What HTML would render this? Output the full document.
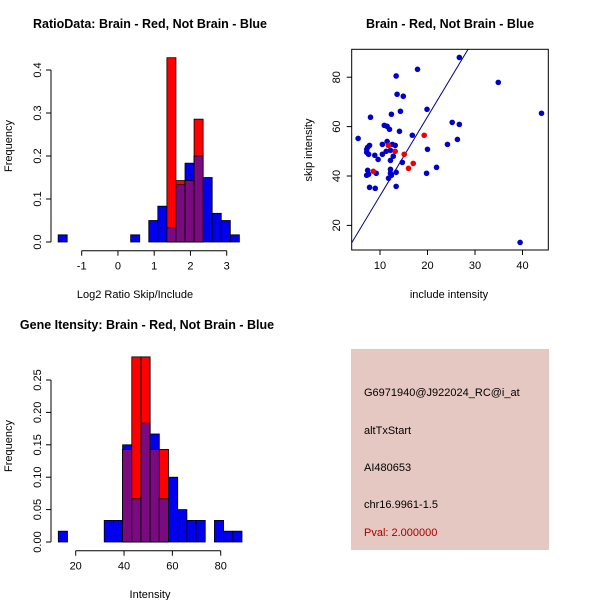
<!DOCTYPE html>
<html><head><meta charset="utf-8"><style>
body{margin:0;background:#fff}
svg{display:block;font-family:"Liberation Sans",sans-serif}
</style></head><body>
<svg id="s" width="600" height="600" viewBox="0 0 600 600" xmlns="http://www.w3.org/2000/svg">
<rect width="600" height="600" fill="#fff"/>
<g font-weight="bold" font-size="12.5" text-anchor="middle">
<text x="150" y="28">RatioData: Brain - Red, Not Brain - Blue</text>
<text x="450" y="28">Brain - Red, Not Brain - Blue</text>
<text x="147" y="329">Gene Itensity: Brain - Red, Not Brain - Blue</text>
</g>
<g font-size="11" text-anchor="middle">
<text x="135" y="298">Log2 Ratio Skip/Include</text>
<text transform="translate(12,146) rotate(-90)">Frequency</text>
<text x="449" y="298">include intensity</text>
<text transform="translate(312,150) rotate(-90)">skip intensity</text>
<text x="150" y="598">Intensity</text>
<text transform="translate(12,446) rotate(-90)">Frequency</text>
</g>
<g font-size="11">
<rect x="351" y="349" width="198" height="201" fill="#e6c8c2"/>
<text x="364" y="396">G6971940@J922024_RC@i_at</text>
<text x="364" y="434">altTxStart</text>
<text x="364" y="471">AI480653</text>
<text x="364" y="508">chr16.9961-1.5</text>
<text x="364" y="536" fill="#a00000">Pval: 2.000000</text>
</g>
<g id="g1"></g><g id="g2"></g><g id="g3"></g>
</svg>
<script>
// Ratio histogram
const ratioBreakStart=-1.65, ratioBreakStep=0.25;
const ratioBlue=[0.0167,0,0,0,0,0,0,0,0.0167,0,0.05,0.0833,0.0333,0.1333,0.1833,0.2,0.15,0.0667,0.05,0.0167];
const ratioRed=[0,0,0,0,0,0,0,0,0,0,0,0,0.4286,0.1429,0.1429,0.2857,0,0,0,0];
const ratioXTicks=[-1,0,1,2,3];
const ratioYTicks=["0.0","0.1","0.2","0.3","0.4"];
// Intensity histogram
const intBreakStart=12.8, intBreakStep=3.8;
const intBlue=[0.0167,0,0,0,0,0.0333,0.0333,0.15,0.0667,0.1833,0.1667,0.0667,0.1,0.05,0.0333,0.0333,0,0.0333,0.0167,0.0167];
const intRed=[0,0,0,0,0,0,0,0.1429,0.2857,0.2857,0.1429,0.1429,0,0,0,0,0,0,0,0];
const intXTicks=[20,40,60,80];
const intYTicks=["0.00","0.05","0.10","0.15","0.20","0.25"];
// Scatter
const blueX=[5.4,26.7,17.9,13.4,34.9,13.6,14.9,8,12.4,14.3,19.9,44,25.2,26.7,10.9,11.5,12,14.1,16.8,26.3,24.2,20,11.5,10.5,7.8,7.4,7.2,7.2,7.6,8.9,9.6,10.5,11.3,12.2,12.6,13.2,12.8,12.2,14.7,21.9,7.4,7.2,7.6,9.2,12.2,12.2,12.4,11.8,13.4,19.8,7.8,9,13.4,39.5];
const blueY=[55.2,88,83.2,80.5,77.9,73.1,72.3,63.8,65,66.2,67,65.4,61.7,60.9,60.5,60.1,58.9,58.1,56.5,54.8,52.8,50.8,54,52.8,52.4,51.6,50.8,49.6,48.8,48.4,46.7,48.8,50,50.4,52.8,52.4,48,46.3,45.5,43.5,42.3,40.3,40.7,41.1,42.7,41.1,40.3,39.1,41.5,41.1,35.4,35,35.8,13.1];
const redX=[19.3,11.75,13.2,15.1,17,16,8.6];
const redY=[56.5,52.4,50,48.8,45.1,43.1,41.9];
const lineSlope=3.2;
const scXTicks=[10,20,30,40];
const scYTicks=[20,40,60,80];

const NS="http://www.w3.org/2000/svg";
function mk(p,t,a){const e=document.createElementNS(NS,t);for(const k in a)e.setAttribute(k,a[k]);p.appendChild(e);return e;}

function hist(g,start,step,blue,red,yMaxV,y0,yTop,x0,xPx,axX,axY,xTicks,yTicks,yStep,pre){
  const X=v=>x0+(v-xTicks[0])*xPx, Y=v=>y0-(v/yMaxV)*(y0-yTop);
  for(let i=0;i<blue.length;i++){
    const a=X(start+i*step),b=X(start+(i+1)*step);
    const bv=blue[i],rv=red[i],m=Math.min(bv,rv);
    if(bv>0){const r=mk(g,'rect',{x:a,y:Y(bv),width:b-a,height:y0-Y(bv),fill:'#0000ee',stroke:'#000','stroke-width':0.8});
      
      }
    if(rv>0){const r=mk(g,'rect',{x:a,y:Y(rv),width:b-a,height:y0-Y(rv),fill:'#ff0000',stroke:'#000','stroke-width':0.8});
      
      }
    if(m>0){const r=mk(g,'rect',{x:a,y:Y(m),width:b-a,height:y0-Y(m),fill:'#7a0a80',stroke:'#000','stroke-width':0.8});
      
      }
  }
  const xa=mk(g,'g',{});
  
  
  mk(xa,'line',{x1:X(xTicks[0]),x2:X(xTicks[xTicks.length-1]),y1:axY,y2:axY,stroke:'#000'});
  xTicks.forEach(t=>{mk(xa,'line',{x1:X(t),x2:X(t),y1:axY,y2:axY+5,stroke:'#000'});
    const tx=mk(xa,'text',{x:X(t),y:axY+19,'font-size':11,'text-anchor':'middle'});tx.textContent=t;});
  const ya=mk(g,'g',{});
  
  
  const yv=yTicks.map((t,i)=>i*yStep);
  mk(ya,'line',{x1:axX,x2:axX,y1:Y(0),y2:Y(yv[yv.length-1]),stroke:'#000'});
  yTicks.forEach((t,i)=>{const y=Y(yv[i]);mk(ya,'line',{x1:axX-5,x2:axX,y1:y,y2:y,stroke:'#000'});
    const tx=mk(ya,'text',{'font-size':11,'text-anchor':'middle',transform:`translate(${axX-10},${y}) rotate(-90)`});tx.textContent=t;});
}
hist(document.getElementById('g1'),ratioBreakStart,ratioBreakStep,ratioBlue,ratioRed,0.4,242,70,81.7,36.25,51,250.7,ratioXTicks,ratioYTicks,0.1,'ratio');
hist(document.getElementById('g3'),intBreakStart,intBreakStep,intBlue,intRed,0.25,542,380,75.7,2.417,51,550.7,intXTicks,intYTicks,0.05,'intensity');

// scatter
const g2=document.getElementById('g2');
const SX=v=>380+(v-10)*4.75, SY=v=>176-(v-40)*2.47;
const box=mk(g2,'rect',{x:351.7,y:49.3,width:196.6,height:200.7,fill:'none',stroke:'#000'});


const cp=mk(g2,'clipPath',{id:'cp'});mk(cp,'rect',{x:351.7,y:49.3,width:196.6,height:200.7});
const pts=mk(g2,'g',{'clip-path':'url(#cp)'});
const ln=mk(pts,'line',{x1:SX(0),y1:SY(0),x2:SX(40),y2:SY(40*lineSlope),stroke:'#000080','stroke-width':1});


blueX.forEach((x,i)=>{const c=mk(pts,'circle',{cx:SX(x),cy:SY(blueY[i]),r:2.8,fill:'#0000cc'});
  
  });
redX.forEach((x,i)=>{const c=mk(pts,'circle',{cx:SX(x),cy:SY(redY[i]),r:2.8,fill:'#ee0000'});
  
  });
scXTicks.forEach(t=>{mk(g2,'line',{x1:SX(t),x2:SX(t),y1:250,y2:255,stroke:'#000'});
  const tx=mk(g2,'text',{x:SX(t),y:269,'font-size':11,'text-anchor':'middle'});tx.textContent=t;
  
  });
scYTicks.forEach(t=>{mk(g2,'line',{x1:346.7,x2:351.7,y1:SY(t),y2:SY(t),stroke:'#000'});
  const tx=mk(g2,'text',{'font-size':11,'text-anchor':'middle',transform:`translate(340,${SY(t)}) rotate(-90)`});tx.textContent=t;
  
  });
</script>
</body></html>
